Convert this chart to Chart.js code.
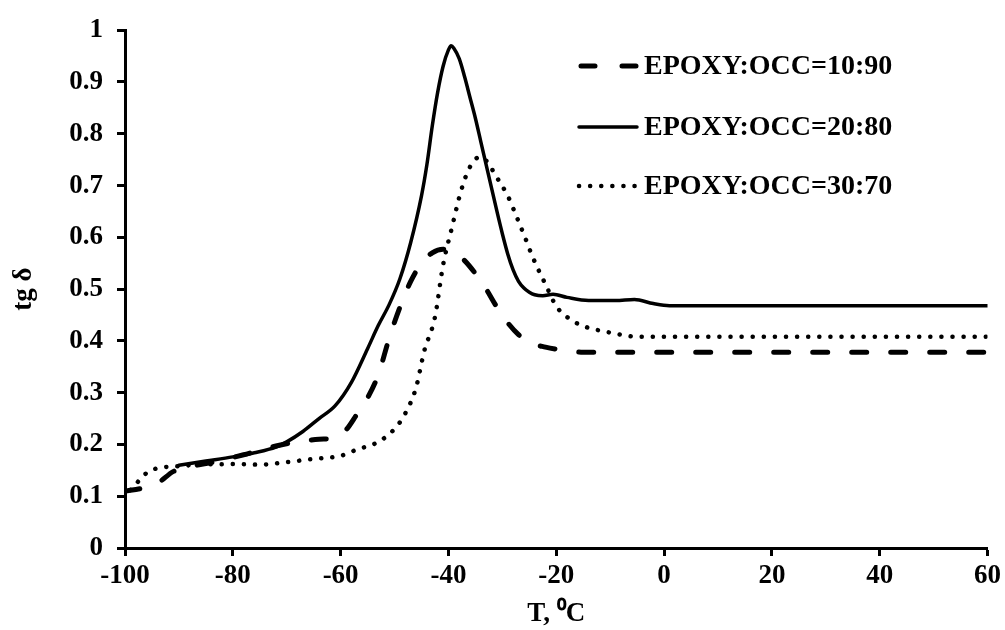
<!DOCTYPE html>
<html>
<head>
<meta charset="utf-8">
<script src="https://cdn.jsdelivr.net/npm/chart.js@4/dist/chart.umd.min.js"></script>
<style>
html,body{margin:0;padding:0;background:#fff;}
canvas{display:block;}
</style>
</head>
<body>
<canvas id="c" width="1005" height="630"></canvas>
<script>
// Data
const seriesNames = ["EPOXY:OCC=10:90", "EPOXY:OCC=20:80", "EPOXY:OCC=30:70"];
const tA = [-100,-97,-94,-91,-88,-84,-78,-72,-68,-64,-61,-59,-57,-55,-53,-51,-49,-47,-45,-43,-41,-39,-37,-35,-33,-31,-29,-27,-25,-22,-18,-15,0,60];
const vA = [0.11,0.115,0.125,0.148,0.157,0.165,0.18,0.197,0.205,0.21,0.213,0.228,0.258,0.29,0.335,0.405,0.465,0.515,0.55,0.57,0.577,0.572,0.555,0.53,0.5,0.465,0.435,0.412,0.397,0.388,0.381,0.378,0.378,0.378];
const tB = [-90,-85,-80,-76,-72,-70,-67,-64,-61,-58,-55,-53,-51,-49,-47,-45,-44,-43,-42,-41,-40,-39.5,-39,-38,-37,-36,-35,-34,-33,-32,-31,-30,-29,-28,-27,-26,-25,-24,-22.5,-20.6,-18,-14,-9,-5.5,-2,1,60];
const vB = [0.16,0.168,0.176,0.184,0.195,0.205,0.225,0.25,0.275,0.32,0.385,0.43,0.47,0.52,0.59,0.68,0.74,0.815,0.88,0.93,0.962,0.97,0.965,0.945,0.91,0.87,0.83,0.785,0.74,0.695,0.65,0.607,0.568,0.537,0.515,0.502,0.494,0.489,0.487,0.49,0.484,0.478,0.478,0.48,0.472,0.468,0.468];
const tC = [-99,-98.5,-97.2,-95.7,-94,-90,-86,-80,-75,-70,-65,-60,-57,-53,-50,-48,-46,-44.5,-42.5,-41,-39.4,-37.6,-36,-34.2,-33,-31.1,-29,-27.4,-25.8,-24.3,-21.8,-20,-17,-14,-11.4,-8,-5,60];
const vC = [0.112,0.116,0.133,0.147,0.154,0.158,0.161,0.162,0.161,0.166,0.172,0.178,0.19,0.205,0.23,0.26,0.31,0.38,0.446,0.546,0.617,0.692,0.736,0.755,0.748,0.717,0.68,0.641,0.6,0.56,0.505,0.467,0.439,0.425,0.419,0.412,0.408,0.408];
const xTicks = [-100,-80,-60,-40,-20,0,20,40,60];
const yTicks = [0,0.1,0.2,0.3,0.4,0.5,0.6,0.7,0.8,0.9,1];
const xTitle = "T, \u2070C";
const yTitle = "tg \u03b4";

const pts = (t, v) => t.map((x, i) => ({x: x, y: v[i]}));
const FONT = "'Liberation Serif', 'Times New Roman', serif";

const styles = [
  {borderDash: [15, 24], borderWidth: 5, borderCapStyle: 'round'},
  {borderDash: [], borderWidth: 3.5, borderCapStyle: 'round'},
  {borderDash: [0.1, 11], borderWidth: 4.5, borderCapStyle: 'round'}
];
const dataSets = [pts(tA, vA), pts(tB, vB), pts(tC, vC)];

const legendPlugin = {
  id: 'customLegend',
  afterDraw(chart) {
    const ctx = chart.ctx;
    const rows = [66, 127, 186];
    ctx.save();
    rows.forEach((y, i) => {
      const s = styles[i];
      ctx.beginPath();
      ctx.setLineDash(i === 0 ? [14, 27] : s.borderDash);
      ctx.lineDashOffset = 0;
      ctx.lineCap = 'round';
      ctx.lineWidth = s.borderWidth;
      ctx.strokeStyle = '#000';
      ctx.moveTo(i === 0 ? 581 : 579, y);
      ctx.lineTo(637, y);
      ctx.stroke();
      ctx.setLineDash([]);
      ctx.fillStyle = '#000';
      ctx.font = "bold 28px " + FONT;
      ctx.textBaseline = 'middle';
      ctx.textAlign = 'left';
      ctx.fillText(seriesNames[i], 644, y + 1);
    });
    ctx.restore();
  }
};

new Chart(document.getElementById('c'), {
  type: 'line',
  data: {
    datasets: dataSets.map((d, i) => ({
      label: seriesNames[i],
      data: d,
      borderColor: '#000',
      backgroundColor: '#000',
      borderWidth: styles[i].borderWidth,
      borderDash: styles[i].borderDash,
      borderCapStyle: styles[i].borderCapStyle,
      borderJoinStyle: 'round',
      pointRadius: 0,
      fill: false,
      cubicInterpolationMode: 'monotone'
    }))
  },
  options: {
    responsive: false,
    animation: false,
    devicePixelRatio: 1,
    layout: {padding: {top: 22, right: 17, bottom: 0, left: 0}},
    plugins: {legend: {display: false}, tooltip: {enabled: false}},
    scales: {
      x: {
        type: 'linear',
        min: -100, max: 60,
        afterFit(scale) { scale.height = 82; },
        afterBuildTicks(scale) { scale.ticks = xTicks.map(v => ({value: v})); },
        ticks: {color: '#000', font: {family: FONT, size: 27, weight: 'bold'}, padding: 4, maxRotation: 0},
        grid: {display: true, drawOnChartArea: false, drawTicks: true, tickLength: 8, tickColor: '#000', tickWidth: 3},
        border: {display: true, color: '#000', width: 3},
        title: {display: true, text: xTitle, color: '#000', font: {family: FONT, size: 27, weight: 'bold'}, padding: {top: 0, bottom: 0}}
      },
      y: {
        type: 'linear',
        min: 0, max: 1,
        afterFit(scale) { scale.width = 125; },
        afterBuildTicks(scale) { scale.ticks = yTicks.map(v => ({value: v})); },
        ticks: {color: '#000', font: {family: FONT, size: 27, weight: 'bold'}, padding: 14,
          callback: v => String(Math.round(v * 10) / 10)},
        grid: {display: true, drawOnChartArea: false, drawTicks: true, tickLength: 8, tickColor: '#000', tickWidth: 3},
        border: {display: true, color: '#000', width: 3},
        title: {display: true, text: yTitle, color: '#000', font: {family: FONT, size: 27, weight: 'bold'}, padding: {top: 8, bottom: 0}}
      }
    }
  },
  plugins: [legendPlugin, {
    id: 'bg',
    beforeDraw(chart) {
      const ctx = chart.ctx;
      ctx.save();
      ctx.fillStyle = '#fff';
      ctx.fillRect(0, 0, chart.width, chart.height);
      ctx.restore();
    }
  }]
});
</script>
</body>
</html>
